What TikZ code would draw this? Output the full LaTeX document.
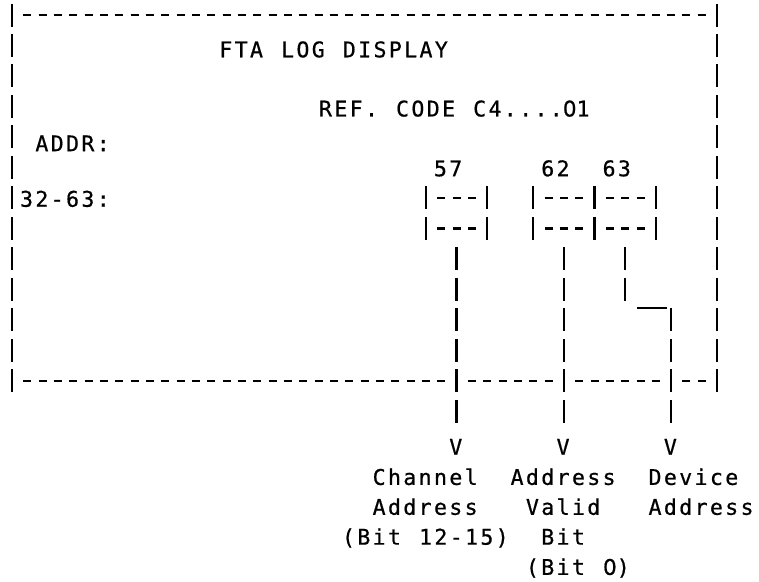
\documentclass[tikz,border=0pt]{standalone}
\usepackage{fontspec}
\usepackage{tikz}
\newfontfamily\tty[LetterSpace=10.8,WordSpace={1.179,0,0},FakeBold=0.6]{DejaVu Sans Mono}
\newfontfamily\zfont[LetterSpace=5,FakeBold=0.6]{DejaVu Sans}
\newcommand\zr{{\zfont 0}}

\begin{document}
\begin{tikzpicture}[x=7.665pt,y=-15.25pt,
  hdash/.style={line width=1.2pt,dash pattern=on 4pt off 3.665pt},
  vbar/.style={line width=1.2pt,dash pattern=on 11.5pt off 3.75pt},
  txt/.style={anchor=base west,inner sep=0pt,font=\tty\fontsize{10.8}{13}\selectfont}]
\useasboundingbox (-0.783,-0.492) rectangle (48.73,18.59);
% frame
\foreach \c in {0,46}{\draw[vbar] (\c,-0.377) -- (\c,12.377);}
\draw[hdash] (0.739,0) -- (45.261,0);
\foreach \a/\b in {1/28,30/35,37/42,44/45}{\draw[hdash] (\a-0.261,12) -- (\b+0.261,12);}
% bit cells
\foreach \b/\c in {57/27,62/34,63/38}{
  \foreach \r in {6,7}{\draw[hdash] (\c+0.739,\r) -- (\c+3.261,\r);}
  \draw[vbar] (\c,5.623) -- (\c,7.377);
  \draw[vbar] (\c+4,5.623) -- (\c+4,7.377);
  \coordinate (bit\b) at (\c+2,7.623);
}
\node[txt] (refcode) at (20,3.327) {REF. CODE C4....\zr1};
\foreach \n/\c/\r/\t in {title/14/1.13/FTA LOG DISPLAY,
  addr/2/4.21/ADDR:,range/1/6.03/32-63:,n57/28/5.03/57,n62/35/5.03/62,n63/39/5.03/63,
  chanA/24/15.15/Channel,chanB/24/16.13/Address,chanC/22/17.11/(Bit 12-15),
  validA/33/15.15/Address,validB/34/16.13/Valid,validC/35/17.11/Bit,validD/34/18.1/(Bit \zr),
  devA/42/15.15/Device,devB/42/16.13/Address}{
  \node[txt] (\n) at (\c-0.5,\r+0.257) {\t};
}
\foreach \n/\c in {va/29,vb/36,vc/43}{\node[txt] (\n) at (\c-0.5,14.417) {V};}
% leads
\draw[vbar,shorten >=8pt] (bit57) -- (bit57 |- va.north);
\draw[vbar,shorten >=8pt] (bit62) -- (bit62 |- vb.north);
\draw[vbar] (bit63) -- ++(0,1.754);
\draw[line width=1.2pt] (40.77,9.6) -- (42.73,9.6);
\coordinate (drop63) at (43,9.623);
\draw[vbar,shorten >=8pt] (drop63) -- (drop63 |- vc.north);
\end{tikzpicture}
\end{document}
